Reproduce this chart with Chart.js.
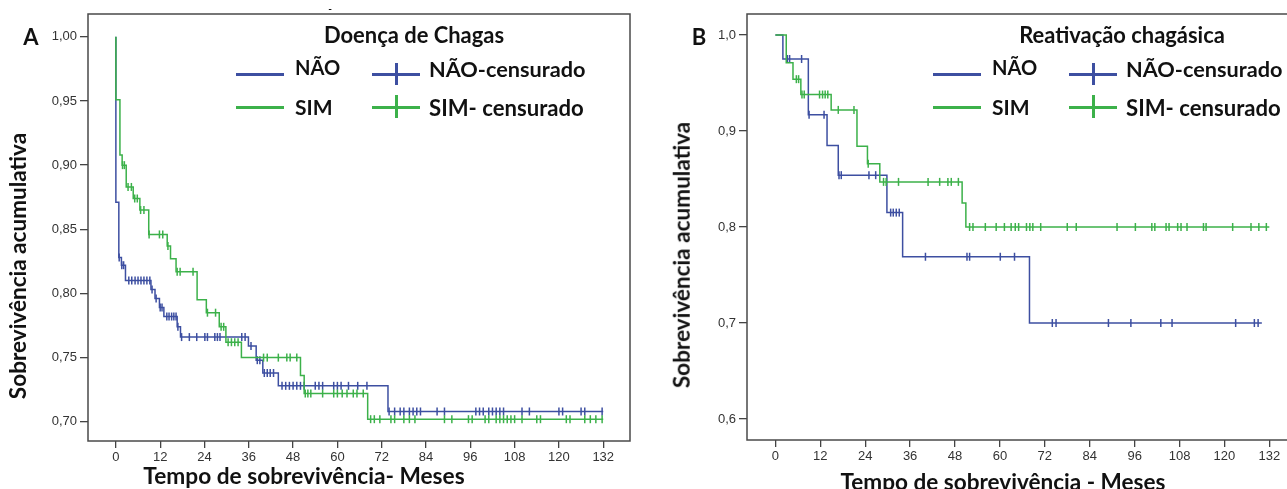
<!DOCTYPE html>
<html>
<head>
<meta charset="utf-8">
<script src="https://cdn.jsdelivr.net/npm/chart.js@4.4.0/dist/chart.umd.min.js"></script>
<style>
  body { margin: 0; width: 1287px; height: 489px; overflow: hidden; background: #fff; position: relative; }
  canvas { position: absolute; top: 0; }
  #chartA { left: 0; }
  #chartB { left: 659px; }
  .lbl { position: absolute; font-family: Lato, "Open Sans", sans-serif; font-weight: bold; color: #111; white-space: nowrap; line-height: 1; }
  .sw { position: absolute; }
</style>
</head>
<body>
<canvas id="chartA" width="640" height="489"></canvas>
<canvas id="chartB" width="660" height="489"></canvas>
<script>
// ── Axis ticks ────────────────────────────────────────────────────
const X_TICKS = [0, 12, 24, 36, 48, 60, 72, 84, 96, 108, 120, 132];
const A_Y_TICKS = [0.70, 0.75, 0.80, 0.85, 0.90, 0.95, 1.00];
const B_Y_TICKS = [0.6, 0.7, 0.8, 0.9, 1.0];

// ── A: Doença de Chagas (time of each step, survival after it) ────
const A_NAO_T = [0, 0, 0.8, 1.5, 2.6, 9.5, 10.6, 11.8, 13.0, 16.6, 17.5, 35.9, 38.0, 39.8, 44.0, 73.7, 132];
const A_NAO_S = [1.00, 0.871, 0.828, 0.822, 0.810, 0.803, 0.796, 0.789, 0.782, 0.774, 0.766, 0.759, 0.748, 0.738, 0.728, 0.708, 0.708];
const A_NAO_CENS = [0.9, 1.6, 2.1, 3.5, 4.3, 5.2, 6.0, 6.8, 7.6, 8.4, 9.2, 9.8, 10.9, 12.0, 12.5, 13.8, 14.4, 15.1, 15.7, 16.3,
  16.8, 17.8, 19.9, 21.9, 24.1, 24.8, 26.8, 27.5, 28.2, 34.1, 35.0, 36.6, 38.3, 39.0, 40.2, 41.0, 41.8, 42.7,
  45, 46, 47, 48, 49, 50, 51, 54, 55, 56, 59, 60, 61, 63, 65.5, 68,
  74, 75.5, 77, 78, 79.5, 80.5, 81.5, 82.5, 87, 89, 97.5, 98.5, 99.5, 101, 102, 103, 104, 105, 110, 112, 120, 121, 126, 127, 131.7];

const A_SIM_T = [0, 0, 1.1, 1.7, 2.8, 4.7, 6.5, 8.9, 13.9, 14.8, 16.3, 22.0, 24.5, 28.0, 29.8, 34.0, 50.0, 51.0, 68.2, 132];
const A_SIM_S = [1.00, 0.951, 0.908, 0.900, 0.883, 0.874, 0.865, 0.846, 0.837, 0.827, 0.817, 0.795, 0.785, 0.774, 0.762, 0.750, 0.736, 0.722, 0.702, 0.702];
const A_SIM_CENS = [1.8, 2.3, 3.3, 4.2, 5.1, 5.8, 6.7, 7.6, 9.0, 11.8, 12.7, 14.1, 16.6, 17.4, 20.9, 24.8, 27.0, 28.5, 29.2,
  30.4, 31.3, 32.2, 33.1, 40.0, 41.0, 44.0, 46.3, 47.2, 49.0, 51.3, 52.0, 52.8, 56.0, 59.0, 60.0, 61.3, 62.6, 64.3, 65.3, 67.0,
  69, 70, 71.5, 74.5, 75.5, 78, 79.5, 81, 89, 91, 95.5, 96.5, 100, 101, 103, 104, 105, 106, 107, 108, 110, 114, 115,
  122, 123, 127, 128.5, 130, 131.7];

// ── B: Reativação chagásica ───────────────────────────────────────
const B_NAO_T = [0, 2.0, 8.8, 13.8, 16.8, 29.8, 34.0, 67.9, 130];
const B_NAO_S = [1.0, 0.975, 0.917, 0.885, 0.854, 0.815, 0.769, 0.700, 0.700];
const B_NAO_CENS = [3.2, 3.8, 7.0, 9.0, 13.0, 17.0, 17.6, 25.0, 26.8, 30.8, 31.5, 32.3, 33.1, 40.1, 51.2, 51.9, 60.1, 63.9,
  74, 75, 89, 95, 103, 106, 123, 128, 129];

const B_SIM_T = [0, 2.9, 4.7, 6.8, 14.9, 21.8, 24.6, 27.9, 49.9, 50.9, 132];
const B_SIM_S = [1.0, 0.971, 0.954, 0.938, 0.922, 0.884, 0.866, 0.847, 0.825, 0.800, 0.800];
const B_SIM_CENS = [5.6, 6.2, 7.1, 7.7, 11.8, 12.6, 13.3, 14.0, 16.8, 21.0, 24.8, 28.9, 29.6, 32.9, 40.8, 43.9, 46.1, 47.0, 48.9,
  51.9, 52.8, 56.1, 59.0, 61.2, 63.0, 64.1, 65.0, 67.1, 68.0, 68.8, 70.9, 78.0, 80.4, 91.3, 96.2, 100.6, 101.4, 104.4, 105.2,
  107.5, 108.4, 110.0, 114.4, 115.1, 122.2, 127.1, 129.2, 131.2];

const BLUE = "#3d4fa1";
const GREEN = "#3cb14a";

// survival value at time t on a step curve (used to sit censor marks on the line)
function stepAt(T, S, t) {
  let v = S[0];
  for (let i = 0; i < T.length; i++) if (T[i] <= t) v = S[i];
  return v;
}

const boxPlugin = {
  id: "box",
  beforeDatasetsDraw(chart) {
    const a = chart.chartArea, ctx = chart.ctx;
    ctx.save();
    ctx.strokeStyle = "#4a4a4a";
    ctx.lineWidth = 1.5;
    ctx.strokeRect(a.left, a.top, a.right - a.left, a.bottom - a.top);
    ctx.restore();
  },
};

function makeKM(id, o) {
  const pts = (T, S) => T.map((t, i) => ({ x: t, y: S[i] }));
  const cens = (C, T, S) => C.map(t => ({ x: t, y: stepAt(T, S, t) }));
  const lineDs = (label, data, color, order) => ({
    label, data, borderColor: color, borderWidth: 1.5, stepped: "before",
    pointRadius: 0, fill: false, order,
  });
  const censDs = (label, data, color, order) => ({
    label, data, showLine: false, pointStyle: "line", rotation: 90, pointRadius: 4,
    borderColor: color, backgroundColor: color, pointBorderWidth: 1.5, order,
  });
  const tickFont = { family: "'Liberation Sans', Arial, sans-serif", size: 13 };
  return new Chart(document.getElementById(id), {
    type: "line",
    data: {
      datasets: [
        censDs("SIM- censurado", cens(o.simC, o.simT, o.simS), GREEN, 1),
        lineDs("SIM", pts(o.simT, o.simS), GREEN, 2),
        censDs("NÃO-censurado", cens(o.naoC, o.naoT, o.naoS), BLUE, 3),
        lineDs("NÃO", pts(o.naoT, o.naoS), BLUE, 4),
      ],
    },
    options: {
      responsive: false,
      devicePixelRatio: 1,
      animation: false,
      layout: { padding: { top: 14, right: 10, left: 0, bottom: 0 } },
      plugins: { legend: { display: false }, tooltip: { enabled: false } },
      scales: {
        x: {
          type: "linear", min: o.xMin, max: o.xMax,
          afterBuildTicks: s => { s.ticks = X_TICKS.map(v => ({ value: v })); },
          afterFit: s => { s.height = o.xH; },
          grid: { drawOnChartArea: false, drawTicks: true, tickLength: 7, color: "#444", lineWidth: 1.3 },
          border: { display: false },
          ticks: { font: tickFont, color: "#333", padding: 2, maxRotation: 0, autoSkip: false, callback: v => String(v) },
        },
        y: {
          type: "linear", min: o.yMin, max: o.yMax,
          afterBuildTicks: s => { s.ticks = o.yTicks.map(v => ({ value: v })); },
          afterFit: s => { s.width = 88; },
          grid: { drawOnChartArea: false, drawTicks: true, tickLength: 8, color: "#444", lineWidth: 1.3 },
          border: { display: false },
          ticks: { font: tickFont, color: "#333", padding: 3, autoSkip: false,
            callback: v => v.toFixed(o.dec).replace(".", ",") },
        },
      },
    },
    plugins: [boxPlugin],
  });
}

makeKM("chartA", {
  naoT: A_NAO_T, naoS: A_NAO_S, naoC: A_NAO_CENS,
  simT: A_SIM_T, simS: A_SIM_S, simC: A_SIM_CENS,
  xMin: -7.55, xMax: 139.25, yMin: 0.685, yMax: 1.0178, yTicks: A_Y_TICKS, dec: 2, xH: 48,
});
makeKM("chartB", {
  naoT: B_NAO_T, naoS: B_NAO_S, naoC: B_NAO_CENS,
  simT: B_SIM_T, simS: B_SIM_S, simC: B_SIM_CENS,
  xMin: -7.59, xMax: 142.6, yMin: 0.5781, yMax: 1.0219, yTicks: B_Y_TICKS, dec: 1, xH: 49,
});

// ── Text labels and legend ────────────────────────────────────────
function label(txt, o) {
  const el = document.createElement("div");
  el.className = "lbl";
  el.textContent = txt;
  el.style.fontSize = o.size + "px";
  document.body.appendChild(el);
  if (o.w) el.style.fontSize = (o.size * o.w / el.offsetWidth) + "px";
  if (o.left !== undefined) {
    el.style.left = o.left + "px";
    el.style.top = o.cy + "px";
    el.style.transform = "translateY(-50%)";
  } else {
    el.style.left = o.cx + "px";
    el.style.top = o.cy + "px";
    el.style.transform = "translate(-50%,-50%)" + (o.rot ? " rotate(-90deg)" : "");
  }
  return el;
}

function swatch(x, y, w, h, color) {
  const d = document.createElement("div");
  d.className = "sw";
  Object.assign(d.style, { left: x + "px", top: y + "px", width: w + "px", height: h + "px", background: color });
  document.body.appendChild(d);
}

function legend(dx, title, titleCx, titleW) {
  label(title, { cx: titleCx, cy: 35, size: 20, w: titleW });
  swatch(236 + dx, 72.5, 48, 3, BLUE);
  swatch(236 + dx, 105.5, 48, 3, GREEN);
  swatch(372 + dx, 72.5, 48, 3, BLUE);
  swatch(395 + dx, 63, 3, 22, BLUE);
  swatch(372 + dx, 105.5, 48, 3, GREEN);
  swatch(395 + dx, 95, 3, 23, GREEN);
  label("NÃO", { left: 295 + dx, cy: 67, size: 21, w: 45 });
  label("SIM", { left: 295 + dx, cy: 106, size: 21, w: 38 });
  label("NÃO-censurado", { left: 429 + dx, cy: 70, size: 21, w: 157 });
  label("SIM- censurado", { left: 429 + dx, cy: 108, size: 21, w: 155 });
}

label("A", { cx: 31, cy: 37, size: 22 });
label("B", { cx: 699, cy: 37, size: 22 });
label("-", { cx: 330, cy: 8, size: 10 });
legend(0, "Doença de Chagas", 414, 180);
legend(697, "Reativação chagásica", 1122, 206);
label("Sobrevivência acumulativa", { cx: 18, cy: 266, size: 20, w: 266, rot: true });
label("Sobrevivência acumulativa", { cx: 682, cy: 255, size: 20, w: 266, rot: true });
label("Tempo de sobrevivência- Meses", { cx: 304, cy: 476, size: 20, w: 321 });
label("Tempo de sobrevivência - Meses", { cx: 1003, cy: 482, size: 20, w: 325 });
</script>
</body>
</html>
